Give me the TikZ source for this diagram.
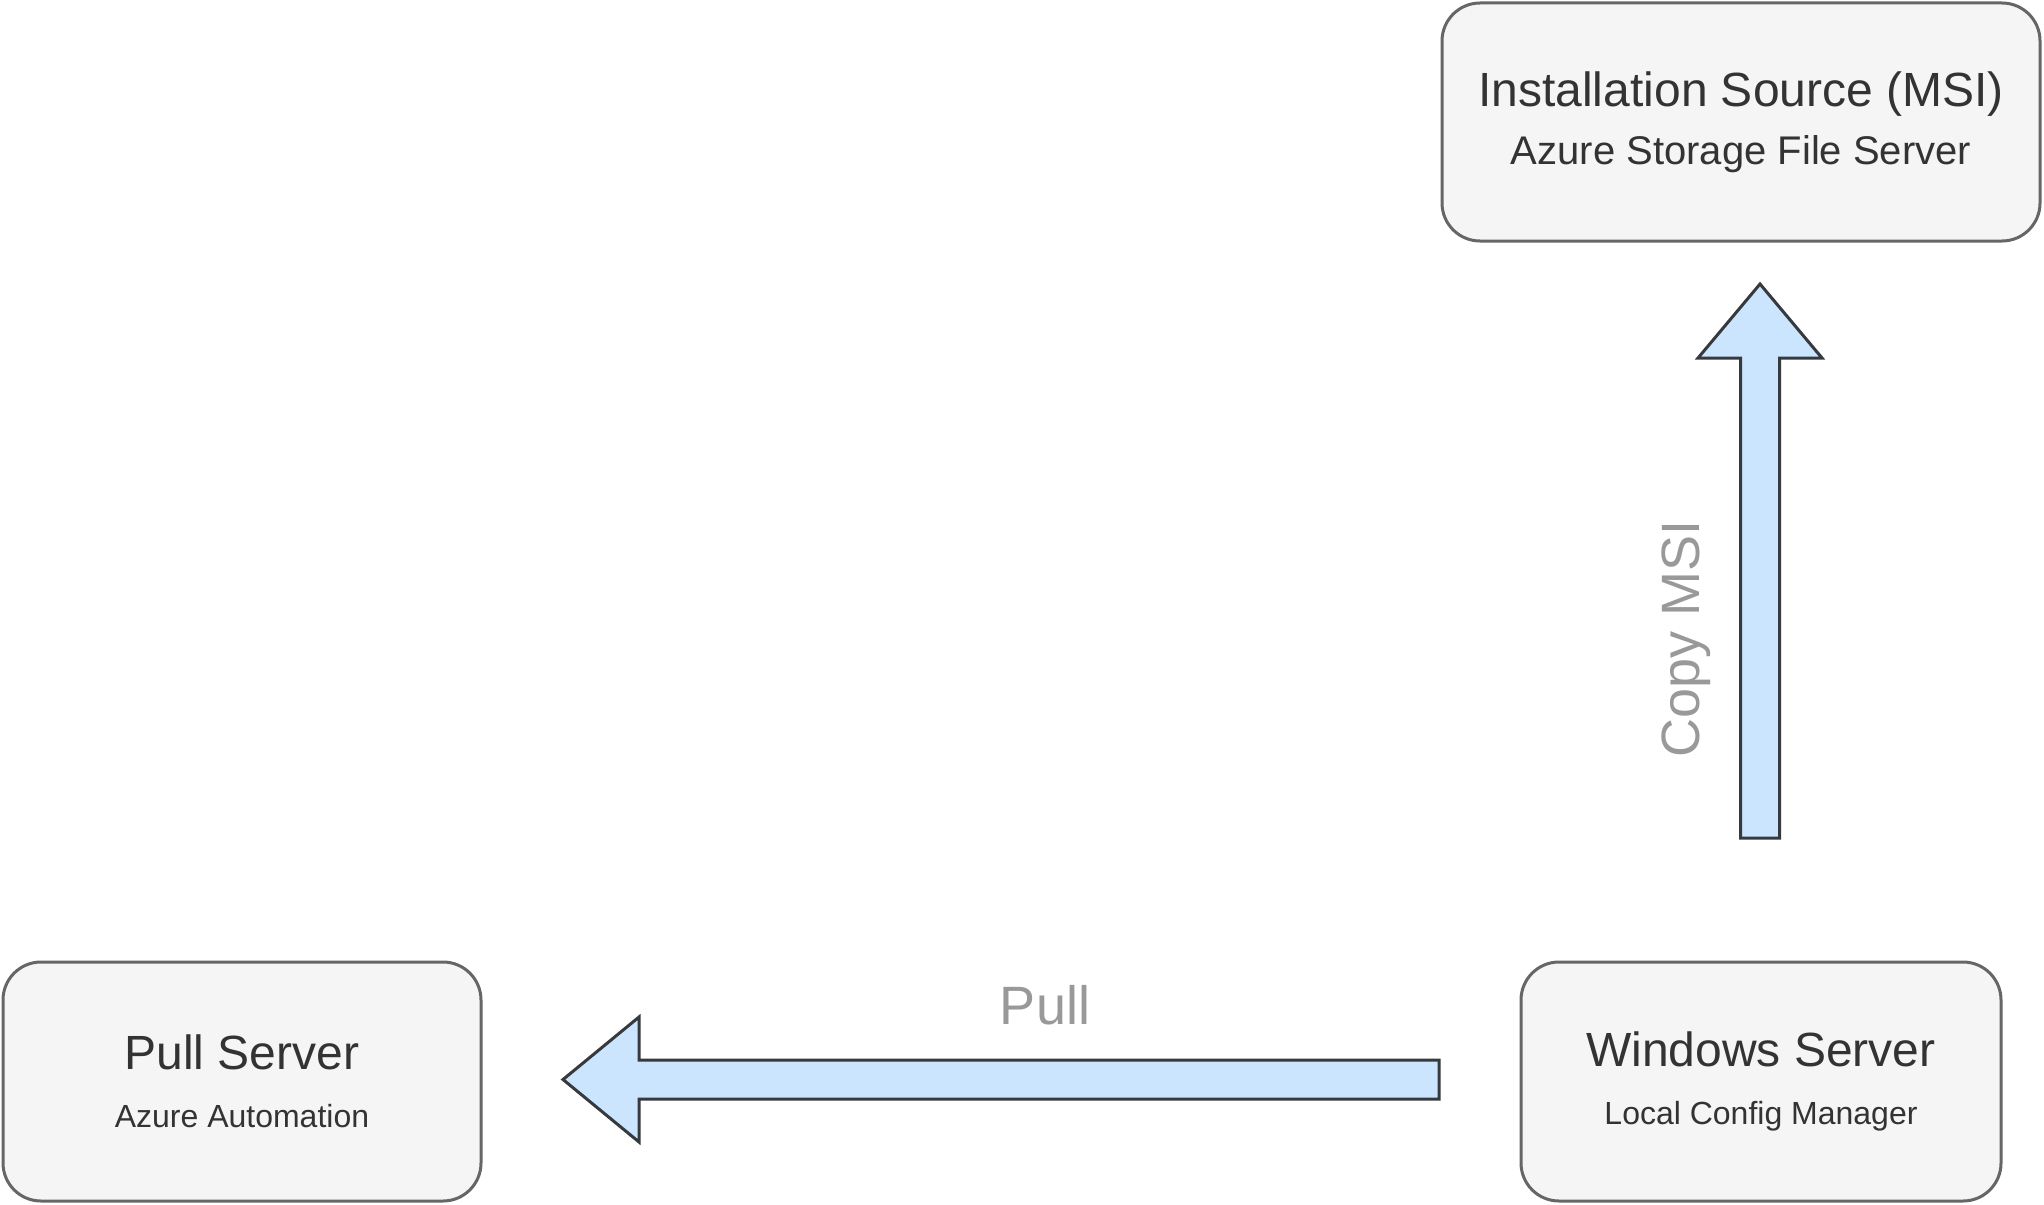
\documentclass[tikz,border=0pt]{standalone}
\usepackage{fontspec}
\setmainfont{Liberation Sans}
\usetikzlibrary{positioning}

\definecolor{boxfill}{HTML}{F5F5F5}
\definecolor{boxline}{HTML}{666666}
\definecolor{arrowfill}{HTML}{CCE5FF}
\definecolor{arrowline}{HTML}{36393D}
\definecolor{textdark}{HTML}{333333}
\definecolor{labelgray}{HTML}{999999}

\begin{document}
\begin{tikzpicture}[x=0.5pt, y=-0.5pt,
   server/.style={draw=boxline, fill=boxfill, line width=1.5pt, rounded corners=19pt,
      text=textdark, align=center, inner sep=0pt},
   flow/.style={draw=arrowline, fill=arrowfill, line width=1.5pt, line join=miter},
   flowlabel/.style={text=labelgray, font=\fontsize{27}{30}\selectfont, inner sep=0pt}]
   \useasboundingbox (0,0) rectangle (2044,1204);
   % boxes
   \node[server, minimum width=299pt, minimum height=119pt] (source) at (1741,122)
      {{\fontsize{24}{28}\selectfont Installation Source (MSI)}\\[8.5pt]
       {\fontsize{20}{24}\selectfont Azure Storage File Server}};
   \node[server, minimum width=239pt, minimum height=119.5pt] (pullsrv) at (242,1081.5)
      {{\fontsize{24}{28}\selectfont Pull Server}\\[17pt]
       {\fontsize{16}{20}\selectfont Azure Automation}};
   \node[server, minimum width=240pt, minimum height=119.5pt] (winsrv) at (1761,1081.5)
      {{\fontsize{24}{28}\selectfont Windows Server}\\[17pt]
       {\fontsize{16}{20}\selectfont Local Config Manager}};
   % block arrows
   \coordinate (copytail) at (1760,838);
   \coordinate (copytip) at (1760,284);
   \draw[flow] (copytail) ++(-19.5,0) -- ++(0,-480) -- ++(-42.5,0) -- (copytip)
      -- ++(62,74) -- ++(-42.5,0) -- ++(0,480) -- cycle;
   \coordinate (pulltail) at (1439,1079.5);
   \coordinate (pulltip) at (563,1079.5);
   \draw[flow] (pulltail) ++(0,-19.5) -- ++(-800,0) -- ++(0,-43) -- (pulltip)
      -- ++(76,62.5) -- ++(0,-43) -- ++(800,0) -- cycle;
   % labels
   \node[flowlabel] (pulltext) at (1045,1005) {Pull};
   \node[flowlabel, rotate=90] (copytext) at (1686,639) {Copy MSI};
\end{tikzpicture}
\end{document}
